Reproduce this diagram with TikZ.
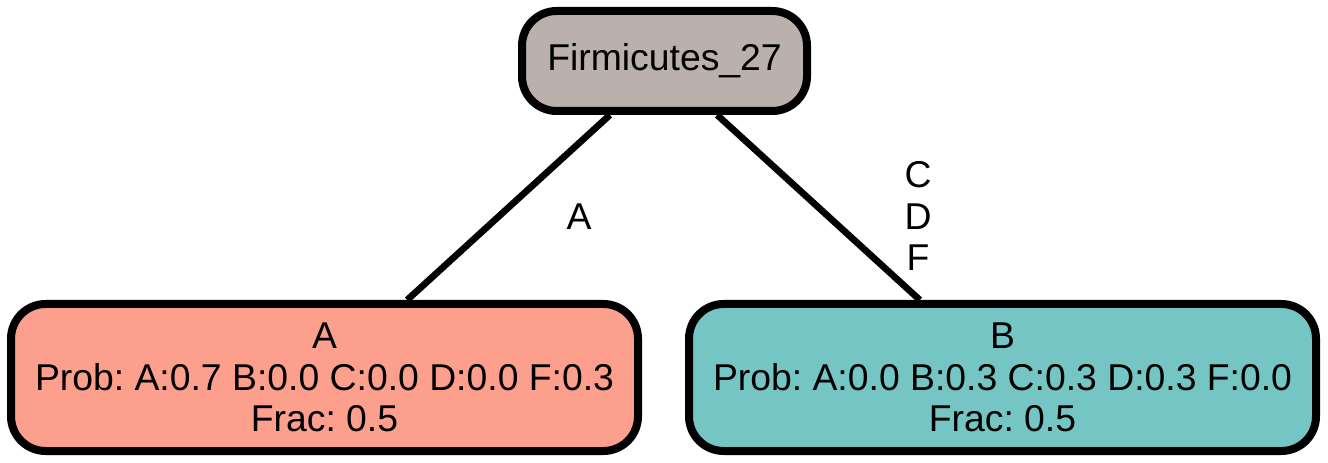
\documentclass[tikz,border=0pt]{standalone}
\usepackage{fontspec}
\setmainfont{Liberation Sans}
\frenchspacing
\definecolor{rootfill}{HTML}{BAB0AC}
\definecolor{afill}{HTML}{FC9F8D}
\definecolor{bfill}{HTML}{76C5C5}
\begin{document}
\begin{tikzpicture}[x=0.75pt,y=-0.75pt,
  box/.style={draw=black,line width=6pt,rounded corners=26pt,align=center,
    inner sep=0pt,font=\fontsize{28}{31}\selectfont\frenchspacing},
  conn/.style={draw=black,line width=5pt},
  elabel/.style={align=center,inner sep=0pt,font=\fontsize{28}{31}\selectfont}]
\useasboundingbox (0,0) rectangle (1328,463);
\node[box,fill=rootfill,minimum width=213.75pt,minimum height=75pt] (F) at (664.5,61) {Firmicutes\_27};
\node[box,fill=afill,minimum width=470.25pt,minimum height=110.25pt] (A) at (324.5,377.5)
  {A\\Prob: A:0.7 B:0.0 C:0.0 D:0.0 F:0.3\\Frac: 0.5};
\node[box,fill=bfill,minimum width=470.25pt,minimum height=110.25pt] (B) at (1002.5,377.5)
  {B\\Prob: A:0.0 B:0.3 C:0.3 D:0.3 F:0.0\\Frac: 0.5};
\draw[conn] ([xshift=-41pt]F.south) -- ([xshift=62pt]A.north);
\draw[conn] ([xshift=39.5pt]F.south) -- ([xshift=-62pt]B.north);
\node[elabel] (la) at (579,217) {A};
\node[elabel] (lb) at (918,216) {C\\D\\F};
\end{tikzpicture}
\end{document}
